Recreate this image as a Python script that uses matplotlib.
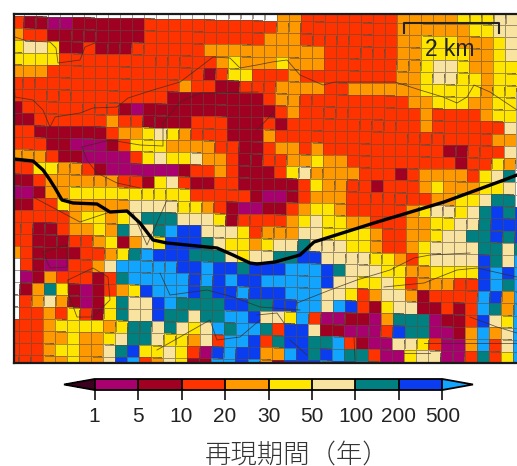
import numpy as np
import matplotlib
matplotlib.use("Agg")
from matplotlib import pyplot as plt
from matplotlib.colors import ListedColormap, BoundaryNorm

# return period class per grid cell, row -1 is the sliver at the top right
# p 1-5, d 5-10, r 10-20, o 20-30, y 30-50, c 50-100, t 100-200, b 200-500, l >500
cells = [
    ".......... .......... ..oorrrrrr rroooooyyy cc.",
    "rddppddddd drrrrrrrrr rroorrrrrr rroooooooyy cc.".replace("ooooooo", "oooooo"),
    "orrddddddd drrrrrrrrr rooorrrrrr rrooyyyooo yc.",
    "yccyddrddd rrrrrroooo oooooorrrr rrooyyyyoo yc.",
    "yyyyrrrrrr rrrrrrroyo ooyooorrrr rrooyccyoo yy.",
    "ooorrrrrrr rrrrrrdryy rrrorrrrrr rrooyccyyo yy.",
    "rrrrrrrrrr rrrrorrddr rroooorroo ooooyyyyyo yy.",
    "rrrrrrrrrr rrrddddddd droorrrrrr rrrooyyyoo yy.",
    "drrrrrrrrd pddddddddd ddrorrrrrr rrrrorrrro yy.",
    "ddrrrrrror rddddrrrdd drdrrrrrrr rrrrorrrrr rc.",
    "rrddddddro oycyorrrdd dorrrrrrrr rrrrrrrrrr oo.",
    "rrrddpppdr yyyoooorrd drooro rrrr rrrrrrddrr rc.".replace("ro rr", "rorr"),
    "ooorddpppp rycyycoord drrooyoorr rrrrrrrdrr yo.",
    "rryyoordpp ppppdrrord ddrycoooor rrdroooory ct.",
    "ddroooooor rdycrddrrd ddddryoorr drrroyoooy yc.",
    "ppdooyyyyy yyyyyrrrrr dppdrooorr rrrrrooyyc tt.",
    "ddrryooooo ccccyyordp pddroyyorr rrroyccyct btb",
    "rrrrroyyoy ctttcccydr rrroycyyoo rrrooyycct bbb",
    "rrddrooyot cctlbbcccy roooccyyyy orrooycctt btb",
    "rrdddrroyd ocybbbtcyy oycctcccyy orroycccct tct",
    "orddddrroy tlbbbtttcy ccttbbcccc yyoryccccb tcl",
    ".rdpprrocl llllbblbbt bbblllbtcc cyyooyyyyb lbl",
    ".pdorrrdrt lllllblblb blllllbccy ycyrooorrb ltl",
    ".dotydpdro yblllbtbbl bbblllccyr occodrrrrl bol",
    ".rocodpdyt ccblttttbb ttbbllclbr dyccddrdrl tol",
    ".rroryrdyt ccbttcttll bccylrppdd potttpddrb cyl",
    "rrroyyyyoy ttctcycltl ltrbbcddpp prbttppdol ocl",
    "rrrooyooyc ttcyyocrll brtbbttlrd ppccyrppol rcl",
    "rrroyyooct byycyrpblb boolbtbltt rppyccpprt ryl",
    "rrrooyoocb lrocyddllb lodbbblbbl trp....... ...",
]
class_values = {"p": 3, "d": 7, "r": 15, "o": 25, "y": 40, "c": 75, "t": 150, "b": 350, "l": 700, ".": np.nan}
levels = [1, 5, 10, 20, 30, 50, 100, 200, 500]
level_colors = ["#A8006E", "#A00022", "#FF3300", "#FF9900", "#FFE600", "#F8E3A0", "#008080", "#0A3CF0"]
under_color = "#3C0020"
over_color = "#12A5FF"

# boundaries, in picture coordinates
river = [(14, 159), (33, 161), (43, 170), (50, 180), (55, 188), (62, 200), (73, 203), (97, 204), (110, 212),
         (127, 211), (140, 223), (153, 240), (167, 243), (217, 248), (233, 255), (250, 263), (257, 264),
         (275, 262), (300, 255), (314, 242), (374, 223), (444, 202), (504, 180), (517, 175)]
borders = [
    [(14, 83), (15, 97), (33, 100), (43, 110), (50, 127), (55, 117), (80, 113), (93, 108), (117, 107), (128, 98),
     (153, 90), (180, 82), (200, 67), (213, 57), (230, 58), (240, 68), (257, 65), (272, 62), (287, 60), (300, 75),
     (323, 85), (335, 82), (350, 82), (395, 82), (420, 90), (443, 97), (457, 103), (467, 97), (474, 85), (490, 92),
     (517, 110)],
    [(15, 37), (27, 41), (50, 42), (56, 48), (58, 63), (80, 60), (85, 47), (95, 43)],
    [(82, 147), (87, 160), (97, 173), (117, 183), (140, 188)],
    [(163, 123), (180, 102), (200, 93), (258, 92)],
    [(257, 130), (273, 113)],
    [(82, 147), (110, 140), (140, 145), (163, 146), (163, 123)],
    [(33, 197), (80, 222), (110, 212)],
    [(133, 213), (147, 245), (167, 200)],
    [(68, 280), (93, 268), (108, 277), (110, 300), (93, 317), (77, 317), (68, 293), (68, 280)],
    [(43, 252), (67, 245), (67, 267), (50, 268), (43, 252)],
    [(160, 273), (170, 295), (207, 290), (233, 297), (260, 307), (300, 310)],
    [(157, 350), (210, 320), (217, 340), (240, 337), (260, 320)],
    [(297, 303), (330, 290), (357, 280), (390, 270), (414, 258), (430, 255), (470, 253)],
    [(384, 287), (424, 283), (457, 270), (477, 268), (517, 277)],
    [(257, 315), (277, 313), (284, 323)],
    [(424, 343), (470, 343), (517, 343)],
    [(404, 353), (430, 353)],
    [(470, 317), (497, 327), (517, 333)],
    [(290, 340), (307, 355)],
    [(354, 337), (355, 360)],
]
scale_bar = [(404, 33), (404, 23), (499, 23), (499, 33)]

W, H = 517, 466
fig = plt.figure(figsize=(W / 100, H / 100), dpi=100)
plt.rcParams["font.family"] = ["Liberation Sans", "DejaVu Sans"]

ax = fig.add_axes([14 / W, 1 - 363 / H, (W - 14) / W, (363 - 14) / H])
ax.set_xlim(14, W)
ax.set_ylim(363, 14)
ax.set_xticks([])
ax.set_yticks([])
ax.spines["right"].set_visible(False)
for side in ["top", "left", "bottom"]:
    ax.spines[side].set_linewidth(1.6)
    ax.spines[side].set_color("#1a1a1a")

cmap = ListedColormap(level_colors).with_extremes(under=under_color, over=over_color, bad="white")
norm = BoundaryNorm(levels, len(level_colors))

values = np.array([[class_values[ch] for ch in row.replace(" ", "")] for row in cells], dtype=float)

# the source grid sits about one degree off the frame
col_idx, row_idx = np.meshgrid(np.arange(values.shape[1] + 1), np.arange(-1, values.shape[0]))
grid_x = 23.5 + 12.05 * (col_idx - 1) - 0.175 * row_idx
grid_y = 16 + 12.1 * row_idx + 0.217 * col_idx
mesh = ax.pcolormesh(grid_x, grid_y, np.ma.masked_invalid(values), cmap=cmap, norm=norm,
                     edgecolors=(0.35, 0.3, 0.25, 0.55), linewidth=0.5)

for line in borders:
    xs, ys = zip(*line)
    ax.plot(xs, ys, color="#3a2a20", lw=0.6, alpha=0.75)
xs, ys = zip(*river)
ax.plot(xs, ys, color="black", lw=2.4, solid_capstyle="round")

xs, ys = zip(*scale_bar)
ax.plot(xs, ys, color="#222222", lw=1.5)
ax.text(450, 50, "2 km", ha="center", va="center", fontsize=16.5, color="#222222")

cax = fig.add_axes([64 / W, 1 - 390 / H, (473 - 64) / W, 11 / H])
cbar = fig.colorbar(mesh, cax=cax, orientation="horizontal", extend="both", extendfrac=36 / 409,
                    spacing="uniform", ticks=levels, drawedges=True)
cbar.outline.set_linewidth(1.3)
cbar.dividers.set_linewidth(1.3)
cbar.ax.tick_params(length=7.5, width=1.2, labelsize=15, pad=5, color="#111111", labelcolor="#222222")
cbar.ax.set_xticklabels([str(v) for v in levels])

fig.text(205 / W, 1 - 455 / H, "再現期間（年）", fontsize=19, color="#333333", ha="left", va="center",
         family=["Noto Sans CJK JP", "DejaVu Sans"], weight="light")

fig.savefig("out.png", dpi=100)
